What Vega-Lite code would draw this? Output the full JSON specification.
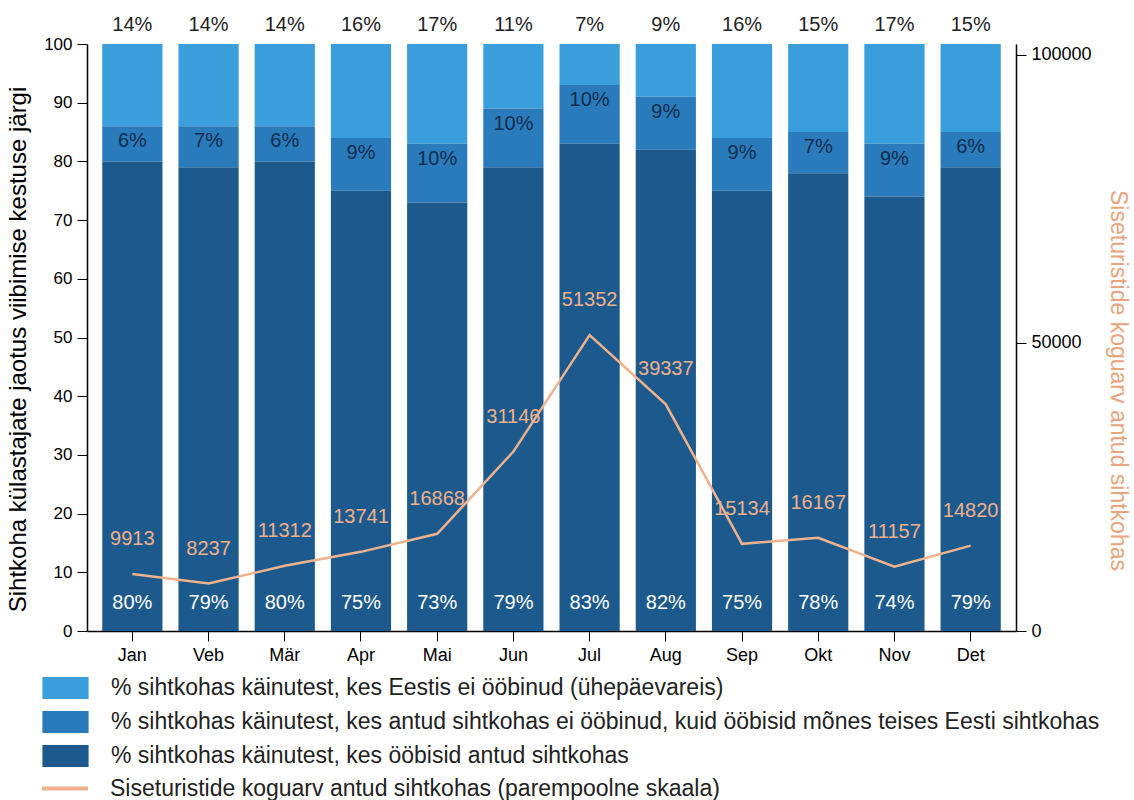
{
  "$schema": "https://vega.github.io/schema/vega-lite/v6.json",
  "width": 929,
  "height": 587,
  "autosize": {"type": "none"},
  "padding": {"left": 87, "top": 44, "right": 118, "bottom": 169},
  "background": "white",
  "config": {
    "view": {"stroke": null},
    "font": "Liberation Sans",
    "axis": {
      "grid": false,
      "domainColor": "black",
      "tickColor": "black",
      "labelColor": "black",
      "labelFont": "Liberation Sans",
      "titleFont": "Liberation Sans",
      "titleFontWeight": "normal",
      "titleColor": "black"
    },
    "legend": {
      "labelFont": "Liberation Sans",
      "labelColor": "#222",
      "labelFontSize": 23,
      "labelLimit": 1200
    }
  },
  "datasets": {
    "bars": [
      {"month": "Jan", "segment": "light", "order": 3, "pct": 14, "label": "14%"},
      {"month": "Jan", "segment": "medium", "order": 2, "pct": 6, "label": "6%"},
      {"month": "Jan", "segment": "dark", "order": 1, "pct": 80, "label": "80%"},
      {"month": "Veb", "segment": "light", "order": 3, "pct": 14, "label": "14%"},
      {"month": "Veb", "segment": "medium", "order": 2, "pct": 7, "label": "7%"},
      {"month": "Veb", "segment": "dark", "order": 1, "pct": 79, "label": "79%"},
      {"month": "Mär", "segment": "light", "order": 3, "pct": 14, "label": "14%"},
      {"month": "Mär", "segment": "medium", "order": 2, "pct": 6, "label": "6%"},
      {"month": "Mär", "segment": "dark", "order": 1, "pct": 80, "label": "80%"},
      {"month": "Apr", "segment": "light", "order": 3, "pct": 16, "label": "16%"},
      {"month": "Apr", "segment": "medium", "order": 2, "pct": 9, "label": "9%"},
      {"month": "Apr", "segment": "dark", "order": 1, "pct": 75, "label": "75%"},
      {"month": "Mai", "segment": "light", "order": 3, "pct": 17, "label": "17%"},
      {"month": "Mai", "segment": "medium", "order": 2, "pct": 10, "label": "10%"},
      {"month": "Mai", "segment": "dark", "order": 1, "pct": 73, "label": "73%"},
      {"month": "Jun", "segment": "light", "order": 3, "pct": 11, "label": "11%"},
      {"month": "Jun", "segment": "medium", "order": 2, "pct": 10, "label": "10%"},
      {"month": "Jun", "segment": "dark", "order": 1, "pct": 79, "label": "79%"},
      {"month": "Jul", "segment": "light", "order": 3, "pct": 7, "label": "7%"},
      {"month": "Jul", "segment": "medium", "order": 2, "pct": 10, "label": "10%"},
      {"month": "Jul", "segment": "dark", "order": 1, "pct": 83, "label": "83%"},
      {"month": "Aug", "segment": "light", "order": 3, "pct": 9, "label": "9%"},
      {"month": "Aug", "segment": "medium", "order": 2, "pct": 9, "label": "9%"},
      {"month": "Aug", "segment": "dark", "order": 1, "pct": 82, "label": "82%"},
      {"month": "Sep", "segment": "light", "order": 3, "pct": 16, "label": "16%"},
      {"month": "Sep", "segment": "medium", "order": 2, "pct": 9, "label": "9%"},
      {"month": "Sep", "segment": "dark", "order": 1, "pct": 75, "label": "75%"},
      {"month": "Okt", "segment": "light", "order": 3, "pct": 15, "label": "15%"},
      {"month": "Okt", "segment": "medium", "order": 2, "pct": 7, "label": "7%"},
      {"month": "Okt", "segment": "dark", "order": 1, "pct": 78, "label": "78%"},
      {"month": "Nov", "segment": "light", "order": 3, "pct": 17, "label": "17%"},
      {"month": "Nov", "segment": "medium", "order": 2, "pct": 9, "label": "9%"},
      {"month": "Nov", "segment": "dark", "order": 1, "pct": 74, "label": "74%"},
      {"month": "Det", "segment": "light", "order": 3, "pct": 15, "label": "15%"},
      {"month": "Det", "segment": "medium", "order": 2, "pct": 6, "label": "6%"},
      {"month": "Det", "segment": "dark", "order": 1, "pct": 79, "label": "79%"}
    ],
    "line": [
      {"month": "Jan", "total": 9913},
      {"month": "Veb", "total": 8237},
      {"month": "Mär", "total": 11312},
      {"month": "Apr", "total": 13741},
      {"month": "Mai", "total": 16868},
      {"month": "Jun", "total": 31146},
      {"month": "Jul", "total": 51352},
      {"month": "Aug", "total": 39337},
      {"month": "Sep", "total": 15134},
      {"month": "Okt", "total": 16167},
      {"month": "Nov", "total": 11157},
      {"month": "Det", "total": 14820}
    ]
  },
  "layer": [
    {
      "data": {"name": "bars"},
      "transform": [
        {"stack": "pct", "groupby": ["month"], "sort": [{"field": "order", "order": "ascending"}], "as": ["y0", "y1"]}
      ],
      "encoding": {
        "x": {
          "field": "month",
          "type": "nominal",
          "sort": ["Jan", "Veb", "Mär", "Apr", "Mai", "Jun", "Jul", "Aug", "Sep", "Okt", "Nov", "Det"],
          "scale": {"paddingInner": 0.21, "paddingOuter": 0.2},
          "axis": {"title": null, "labelAngle": 0, "labelFontSize": 18, "tickSize": 10, "labelPadding": 5, "domainWidth": 1.5}
        }
      },
      "layer": [
        {
          "mark": {"type": "bar"},
          "encoding": {
            "y": {
              "field": "y1",
              "type": "quantitative",
              "scale": {"domain": [0, 100]},
              "axis": {
                "title": "Sihtkoha külastajate jaotus viibimise kestuse järgi",
                "titleFontSize": 24,
                "titleX": -69,
                "titleY": 305,
                "titleAngle": -90,
                "titleAlign": "center",
                "titleBaseline": "middle",
                "values": [0, 10, 20, 30, 40, 50, 60, 70, 80, 90, 100],
                "labelFontSize": 17,
                "tickSize": 10,
                "labelPadding": 5,
                "domainWidth": 1.5
              }
            },
            "y2": {"field": "y0"},
            "color": {
              "field": "segment",
              "type": "nominal",
              "scale": {
                "domain": ["light", "medium", "dark"],
                "range": ["#3a9edc", "#2a7bbb", "#1c5a8e"]
              },
              "legend": {
                "orient": "none",
                "legendX": -33,
                "legendY": 632.5,
                "symbolType": "M-2.1,-1H2.1V1H-2.1Z",
                "symbolSize": 484,
                "symbolStrokeWidth": 0,
                "symbolOpacity": 1,
                "labelOffset": 34,
                "rowPadding": 10,
                "title": null,
                "labelExpr": "datum.value == 'light' ? '% sihtkohas käinutest, kes Eestis ei ööbinud (ühepäevareis)' : datum.value == 'medium' ? '% sihtkohas käinutest, kes antud sihtkohas ei ööbinud, kuid ööbisid mõnes teises Eesti sihtkohas' : '% sihtkohas käinutest, kes ööbisid antud sihtkohas'"
              }
            }
          }
        },
        {
          "transform": [{"filter": "datum.segment == 'light'"}],
          "mark": {"type": "text", "fontSize": 20, "color": "#222", "baseline": "middle", "dy": -19},
          "encoding": {
            "y": {"field": "y1", "type": "quantitative"},
            "text": {"field": "label", "type": "nominal"}
          }
        },
        {
          "transform": [{"filter": "datum.segment == 'medium'"}],
          "mark": {"type": "text", "fontSize": 20, "color": "#0f2d4d", "baseline": "middle", "dy": 15},
          "encoding": {
            "y": {"field": "y1", "type": "quantitative"},
            "text": {"field": "label", "type": "nominal"}
          }
        },
        {
          "transform": [{"filter": "datum.segment == 'dark'"}],
          "mark": {"type": "text", "fontSize": 20, "color": "white", "baseline": "middle", "dy": -28},
          "encoding": {
            "y": {"field": "y0", "type": "quantitative"},
            "text": {"field": "label", "type": "nominal"}
          }
        }
      ]
    },
    {
      "data": {"name": "line"},
      "encoding": {
        "x": {
          "field": "month",
          "type": "nominal",
          "sort": ["Jan", "Veb", "Mär", "Apr", "Mai", "Jun", "Jul", "Aug", "Sep", "Okt", "Nov", "Det"]
        },
        "y": {
          "field": "total",
          "type": "quantitative",
          "scale": {"domain": [0, 101900]},
          "axis": {
            "orient": "right",
            "title": "Siseturistide koguarv antud sihtkohas",
            "titleColor": "#e9a47c",
            "titleFontSize": 23,
            "titleAngle": 90,
            "titleX": 101,
            "titleY": 336,
            "titleAlign": "center",
            "titleBaseline": "middle",
            "values": [0, 50000, 100000],
            "format": "d",
            "labelFontSize": 18,
            "tickSize": 10,
            "labelPadding": 5,
            "domainWidth": 1.5
          }
        }
      },
      "layer": [
        {
          "mark": {"type": "line", "strokeWidth": 2.5},
          "encoding": {
            "stroke": {
              "datum": "Siseturistide koguarv antud sihtkohas (parempoolne skaala)",
              "type": "nominal",
              "scale": {"range": ["#efb28d"]},
              "legend": {
                "orient": "none",
                "legendX": -35,
                "legendY": 731.5,
                "symbolType": "M-2.1,0H2.1",
                "symbolSize": 484,
                "symbolStrokeWidth": 4,
                "labelOffset": 32,
                "title": null
              }
            }
          }
        },
        {
          "mark": {"type": "text", "fontSize": 20, "color": "#efb08a", "baseline": "middle", "dy": -35},
          "encoding": {
            "text": {"field": "total", "type": "quantitative", "format": "d"}
          }
        }
      ]
    }
  ],
  "resolve": {"scale": {"y": "independent"}}
}
